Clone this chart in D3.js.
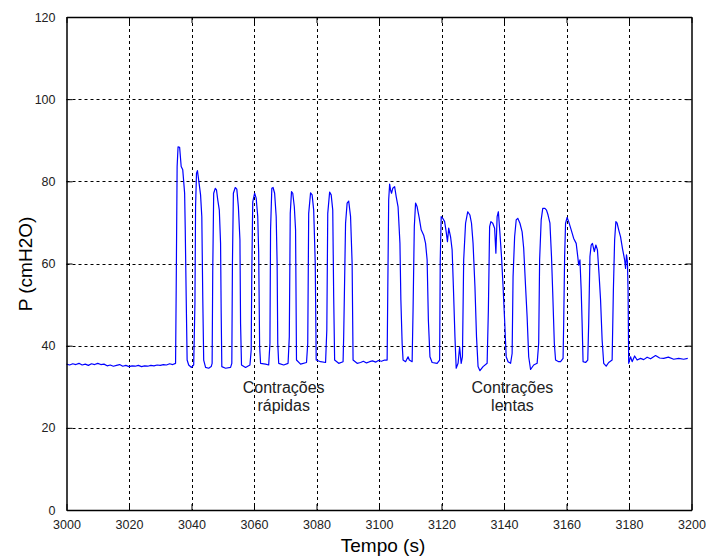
<!DOCTYPE html>
<html>
<head>
<meta charset="utf-8">
<script src="https://cdn.jsdelivr.net/npm/d3@7"></script>
<style>
  html, body { margin: 0; padding: 0; background: #fff; }
  svg { display: block; }
  text { font-family: Arial, "Liberation Sans", Helvetica, sans-serif; }
</style>
</head>
<body>
<svg id="chart" width="706" height="558"></svg>
<script>
// ---- Data ----
const xTicks = [3000, 3020, 3040, 3060, 3080, 3100, 3120, 3140, 3160, 3180, 3200];
const yTicks = [0, 20, 40, 60, 80, 100, 120];

const times = [
  3000,3001,3002,3003,3004,3005,3006,3007,3008,3009,3010,3011,3012,3013,3014,3015,3016,3017,3018,3019,
  3020,3021,3022,3023,3024,3025,3026,3027,3028,3029,3030,3031,3032,3033,3034,
  // pulse 1
  3034.9,3035.1,3035.4,3035.7,3036.2,3036.7,3037.2,3037.8,3038.0,3038.3,3038.6,3039.1,3040.0,3040.7,
  // pulse 2
  3041.1,3041.3,3041.6,3041.9,3042.3,3042.9,3043.3,3043.6,3043.9,3044.5,3045.5,3046.3,
  // pulse 3
  3046.6,3046.8,3047.1,3047.6,3048.0,3048.4,3048.9,3049.3,3049.5,3049.7,3050.9,3052.5,
  // pulse 4
  3052.9,3053.1,3053.4,3054.0,3054.5,3055.0,3055.5,3055.7,3056.0,3057.3,3058.7,
  // pulse 5
  3059.1,3059.3,3059.6,3060.2,3060.7,3061.2,3061.5,3061.8,3062.1,3063.7,3064.7,
  // pulse 6
  3065.1,3065.3,3065.7,3066.1,3066.6,3067.1,3067.4,3067.6,3067.9,3069.5,3070.9,
  // pulse 7
  3071.3,3071.6,3072.0,3072.4,3072.9,3073.3,3073.6,3074.9,3076.8,
  // pulse 8
  3077.2,3077.5,3078.1,3078.6,3079.1,3079.6,3079.9,3081.3,3082.9,
  // pulse 9
  3083.3,3083.6,3084.2,3084.7,3085.2,3085.5,3085.8,3087.1,3088.5,
  // pulse 10
  3088.7,3089.3,3089.8,3090.3,3090.9,3091.4,3091.7,3093.0,
  3094.1,3095.0,3096.0,3097.0,3097.9,3099.0,3099.8,3100.8,3101.8,
  // pulse 11
  3102.6,3102.8,3103.1,3103.4,3103.7,3104.0,3104.4,3105.0,3105.5,3106.1,3106.7,3107.0,3107.4,3107.7,3108.5,3109.3,3109.7,3110.6,
  // pulse 12
  3110.9,3111.3,3111.7,3112.2,3112.9,3113.5,3114.3,3114.9,3115.4,3115.8,3116.3,3117.0,3118.6,3119.4,
  // pulse 13
  3119.6,3119.9,3120.4,3121.0,3121.5,3121.9,3122.3,3122.9,3123.4,3123.8,3124.3,3124.7,3125.3,3125.8,3126.3,
  // pulse 14
  3126.7,3127.1,3127.7,3128.4,3129.1,3129.6,3130.1,3130.7,3131.2,3131.7,3132.3,3133.3,3134.6,
  // pulse 15
  3135.0,3135.4,3135.8,3136.4,3137.0,3137.4,3137.8,3138.2,3138.7,3139.2,3139.7,3140.2,3140.7,3141.3,3142.1,
  // pulse 16
  3142.6,3142.9,3143.4,3143.9,3144.4,3145.1,3145.8,3146.3,3146.9,3147.4,3147.9,3148.5,3149.5,3150.6,
  // pulse 17
  3151.1,3151.4,3151.9,3152.4,3153.1,3153.6,3154.1,3154.7,3155.2,3155.6,3156.1,3156.5,3157.5,3158.1,3158.9,
  // pulse 18
  3159.1,3159.4,3159.7,3160.2,3160.7,3161.5,3162.3,3163.1,3163.6,3163.9,3164.3,3164.7,3165.0,3165.3,3166.1,3166.8,
  // pulse 19
  3167.1,3167.5,3167.9,3168.3,3168.9,3169.4,3169.9,3170.4,3170.9,3171.4,3171.9,3172.7,3173.5,3174.6,
  // pulse 20
  3175.0,3175.4,3175.8,3176.2,3176.7,3177.3,3177.9,3178.6,3178.9,3179.2,3179.5,3179.7,3179.9,
  3180.5,3181.0,3181.8,3182.6,3183.7,3184.7,3185.8,3186.9,3188.5,3189.8,3191.1,3192.6,3194.3,3195.9,3197.5,3198.8,3200
];

const pressures = [
  35.5,35.3,35.6,35.4,35.7,35.3,35.5,35.2,35.6,35.4,35.7,35.4,35.5,35.1,35.3,35.0,35.2,35.4,35.0,35.2,
  34.9,35.1,35.0,35.2,34.9,35.1,35.0,35.2,35.1,35.3,35.2,35.4,35.3,35.6,35.4,
  35.7,53.5,83.6,88.4,88.3,83.6,82.8,77.1,68.2,51.9,36.5,35.3,34.7,35.3,
  50.3,73.8,82.0,82.6,80.3,76.7,71.4,51.9,36.5,34.7,34.5,34.9,
  35.7,58.4,77.1,78.3,77.9,75.5,73.0,64.9,47.9,34.9,34.5,34.7,
  35.7,60.0,77.1,78.5,78.1,73.8,65.7,45.4,35.3,34.7,35.3,
  38.9,58.4,75.0,77.1,75.9,71.4,62.5,39.8,35.7,35.5,35.3,
  40.6,68.2,78.3,78.5,77.1,71.4,60.0,40.6,35.7,35.3,35.7,
  42.2,72.2,77.5,77.1,73.8,68.2,36.5,35.5,35.9,
  40.6,72.2,77.2,76.7,73.0,60.0,36.5,36.1,35.9,
  43.8,72.2,77.4,76.7,73.0,51.9,36.5,35.7,36.1,
  42.2,69.8,74.7,75.2,71.4,60.0,36.5,35.7,
  35.9,36.2,35.8,36.1,36.3,36.0,36.4,36.2,36.5,
  36.5,52.7,75.5,79.3,77.9,77.1,78.3,78.7,76.3,73.8,64.9,51.1,40.6,36.5,36.1,37.3,36.5,36.1,
  48.7,69.0,74.7,73.8,71.0,68.2,66.9,64.9,60.9,46.2,37.3,35.9,35.7,36.5,
  60.9,71.4,71.0,70.2,67.7,65.3,68.6,66.5,63.3,54.4,42.2,34.5,35.7,39.7,35.7,
  37.3,60.9,69.8,72.6,71.8,69.8,64.9,54.4,42.2,34.9,33.9,34.9,35.7,
  48.7,69.0,70.2,69.8,68.6,62.5,71.4,72.6,67.3,61.7,54.4,46.2,37.3,36.1,35.7,
  38.1,56.8,66.5,70.6,71.0,69.8,67.7,63.7,54.4,47.0,37.3,34.2,35.3,35.7,
  40.6,60.9,70.6,73.4,73.4,73.0,71.8,69.8,61.7,52.7,40.6,36.5,36.1,36.1,36.9,
  45.4,61.7,69.8,71.2,70.2,68.2,66.1,64.9,61.7,59.6,60.9,53.5,45.4,36.1,35.9,36.5,
  45.4,61.7,64.5,64.9,62.9,64.5,63.3,57.6,51.1,41.4,35.7,35.0,35.9,36.5,
  53.5,65.7,70.2,69.8,68.2,66.5,63.7,60.9,58.8,62.1,60.4,53.5,35.7,
  37.3,36.1,37.5,36.5,36.9,36.6,37.2,36.8,37.6,37.0,36.9,37.2,36.7,36.9,36.7,36.9
];

// ---- Layout ----
const svg = d3.select("#chart");
const L = 66.5, R = 691.5, T = 17, B = 510;

const x = d3.scaleLinear().domain([3000, 3200]).range([L, R]);
const y = d3.scaleLinear().domain([0, 120]).range([B, T]);

// grid
const grid = svg.append("g");
grid.selectAll("line.gx").data(xTicks.slice(1, -1)).enter().append("line")
  .attr("x1", d => Math.round(x(d)) + 0.5).attr("x2", d => Math.round(x(d)) + 0.5)
  .attr("y1", T).attr("y2", B)
  .attr("stroke", "#000").attr("stroke-width", 1).attr("stroke-dasharray", "3,3");
grid.selectAll("line.gy").data(yTicks.slice(1, -1)).enter().append("line")
  .attr("y1", d => Math.round(y(d)) + 0.5).attr("y2", d => Math.round(y(d)) + 0.5)
  .attr("x1", L).attr("x2", R)
  .attr("stroke", "#000").attr("stroke-width", 1).attr("stroke-dasharray", "3,3");

// data line
const pts = times.map((t, i) => [t, pressures[i]]);
svg.append("path")
  .datum(pts)
  .attr("fill", "none")
  .attr("stroke", "#0000ff")
  .attr("stroke-width", 1.2)
  .attr("stroke-linejoin", "round")
  .attr("d", d3.line().x(d => x(d[0])).y(d => y(d[1])));

// axes (inner ticks, box)
const tickLen = 6;
const xAxisB = d3.axisBottom(x).tickValues(xTicks).tickSizeInner(-tickLen).tickSizeOuter(0).tickPadding(tickLen + 4).tickFormat(d3.format("d"));
const xAxisT = d3.axisTop(x).tickValues(xTicks).tickSizeInner(-tickLen).tickSizeOuter(0).tickFormat("");
const yAxisL = d3.axisLeft(y).tickValues(yTicks).tickSizeInner(-tickLen).tickSizeOuter(0).tickPadding(tickLen + 5).tickFormat(d3.format("d"));
const yAxisR = d3.axisRight(y).tickValues(yTicks).tickSizeInner(-tickLen).tickSizeOuter(0).tickFormat("");

function style(g) {
  g.selectAll("path.domain").attr("stroke", "#000").attr("stroke-width", 1.5);
  g.selectAll(".tick line").attr("stroke", "#000").attr("stroke-width", 1);
  g.selectAll(".tick text").attr("fill", "#222").style("font-size", "12.5px")
    .style("font-family", "Arial, 'Liberation Sans', sans-serif");
}
svg.append("g").attr("transform", `translate(0,${B})`).call(xAxisB).call(style);
svg.append("g").attr("transform", `translate(0,${T})`).call(xAxisT).call(style);
svg.append("g").attr("transform", `translate(${L},0)`).call(yAxisL).call(style);
svg.append("g").attr("transform", `translate(${R},0)`).call(yAxisR).call(style);

// axis titles
svg.append("text")
  .attr("x", (L + R) / 2 + 4).attr("y", 552)
  .attr("text-anchor", "middle")
  .style("font-size", "19px").attr("fill", "#000")
  .text("Tempo (s)");
svg.append("text")
  .attr("transform", `translate(32,264) rotate(-90)`)
  .attr("text-anchor", "middle")
  .style("font-size", "19px").attr("fill", "#000")
  .text("P (cmH2O)");

// annotations
const notes = [
  { t: 3069.5, p: 28.5, lines: ["Contrações", "rápidas"] },
  { t: 3142.7, p: 28.5, lines: ["Contrações", "lentas"] }
];
notes.forEach(n => {
  const txt = svg.append("text")
    .attr("text-anchor", "middle")
    .style("font-size", "16px").attr("fill", "#222");
  n.lines.forEach((s, i) => {
    txt.append("tspan").attr("x", x(n.t)).attr("y", y(n.p) + i * 18.5).text(s);
  });
});
</script>
</body>
</html>
